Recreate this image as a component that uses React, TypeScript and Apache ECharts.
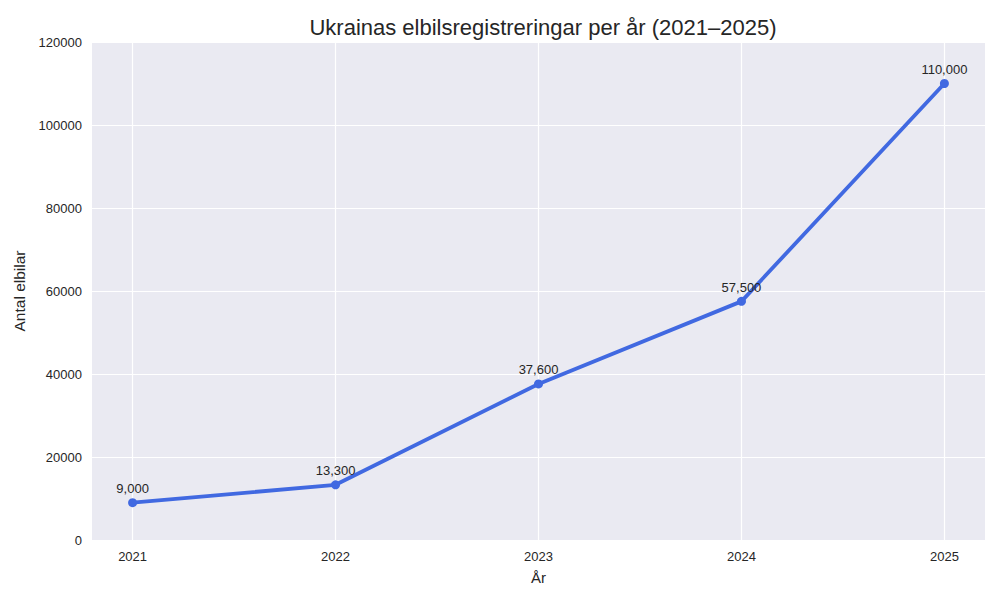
import React, { useEffect, useRef } from "react";
import * as echarts from "echarts";

const years = [2021, 2022, 2023, 2024, 2025];
const registrations = [9000, 13300, 37600, 57500, 110000];
const yTicks = [0, 20000, 40000, 60000, 80000, 100000, 120000];

const FONT = "'Liberation Sans', Arial, sans-serif";
const TEXT = "#262626";

export default function App() {
  const ref = useRef<HTMLDivElement>(null);
  useEffect(() => {
    if (!ref.current) return;
    const chart = echarts.init(ref.current, undefined, { renderer: "svg" });
    chart.setOption({
      animation: false,
      backgroundColor: "#ffffff",
      textStyle: { fontFamily: FONT },
      title: {
        text: "Ukrainas elbilsregistreringar per år (2021–2025)",
        left: 538,
        textAlign: "center",
        top: 11,
        textStyle: { fontFamily: FONT, fontSize: 22, fontWeight: "normal", color: TEXT },
      },
      grid: { left: 92, right: 15, top: 42, bottom: 60, show: true, backgroundColor: "#EAEAF2", borderWidth: 0 },
      xAxis: {
        type: "value",
        min: 2020.8,
        max: 2025.2,
        name: "År",
        nameLocation: "middle",
        nameGap: 30,
        nameTextStyle: { fontFamily: FONT, fontSize: 15, color: TEXT },
        axisLine: { show: false },
        axisTick: { show: false, customValues: years },
        axisLabel: {
          customValues: years,
          formatter: (v: number) => String(Math.round(v)),
          fontFamily: FONT,
          fontSize: 13,
          color: TEXT,
          margin: 10,
        },
        splitLine: { show: true, lineStyle: { color: "#ffffff", width: 1.2 } },
      },
      yAxis: {
        type: "value",
        min: 0,
        max: 120000,
        interval: 20000,
        name: "Antal elbilar",
        nameLocation: "middle",
        nameGap: 64,
        nameTextStyle: { fontFamily: FONT, fontSize: 15.5, color: TEXT },
        axisLine: { show: false },
        axisTick: { show: false },
        axisLabel: {
          formatter: (v: number) => (yTicks.includes(v) ? String(v) : ""),
          fontFamily: FONT,
          fontSize: 13,
          color: TEXT,
          margin: 10,
        },
        splitLine: { show: true, lineStyle: { color: "#ffffff", width: 1.2 } },
      },
      series: [
        {
          type: "line",
          data: years.map((y, i) => [y, registrations[i]]),
          lineStyle: { color: "#4169E1", width: 3.8 },
          itemStyle: { color: "#4169E1" },
          symbol: "circle",
          symbolSize: 9,
          label: {
            show: true,
            position: "top",
            distance: 3,
            formatter: (p: any) => p.value[1].toLocaleString("en-US"),
            fontFamily: FONT,
            fontSize: 13,
            color: TEXT,
          },
        },
      ],
    });
    return () => chart.dispose();
  }, []);
  return <div ref={ref} style={{ width: 1000, height: 600, margin: -8 }} />;
}
